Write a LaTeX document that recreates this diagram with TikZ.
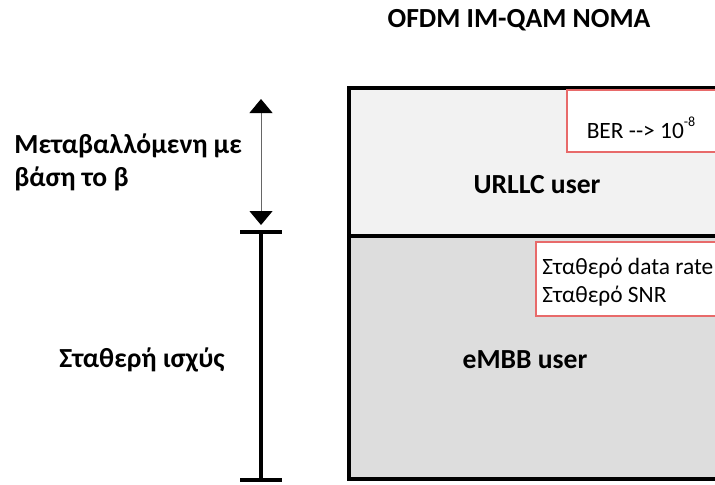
\documentclass[tikz,border=0pt]{standalone}
\usepackage{fontspec}
\setmainfont{Carlito}
\usetikzlibrary{arrows.meta}
\definecolor{upgray}{HTML}{F2F2F2}
\definecolor{lowgray}{HTML}{DDDDDD}
\definecolor{notered}{HTML}{E86A6A}
\begin{document}
\begin{tikzpicture}[x=0.5pt,y=-0.5pt,
			every node/.style={inner sep=0pt},
			lbl/.style={font=\bfseries\fontsize{13.8}{16.5}\selectfont},
			note/.style={font=\fontsize{11.7}{14}\selectfont, align=left},
			notebox/.style={draw=notered, line width=0.6pt, fill=white}]
			\useasboundingbox (0,0) rectangle (715,484);
			\clip (0,0) rectangle (715,484);
			
			\node[lbl] (title) at (519,20) {OFDM IM-QAM NOMA};
			
			% the two layers
			\fill[upgray] (349,88) rectangle (730,236);
			\fill[lowgray] (349,236) rectangle (730,479);
			\draw[line width=1.6pt] (730,88) -- (349,88) -- (349,479) -- (730,479);
			\draw[line width=1.6pt] (349,236) -- (730,236);
			
			% notes
			\draw[notebox] (567,90) rectangle (730,152);
			\node[note] (ber) at (641,128) {BER {-}{-}> 10\raisebox{1.1ex}{\fontsize{7}{8}\selectfont -8}};
			\draw[notebox] (536,242) rectangle (730,316);
			\node[note, anchor=west] (snr) at (542,282) {Σταθερό data rate\\Σταθερό SNR};
			
			\node[lbl] (urllc) at (537,185) {URLLC user};
			\node[lbl] (embb) at (525,360) {eMBB user};
			
			% left side
			\node[lbl, align=left, anchor=north west] (var) at (14,133) {Μεταβαλλόμενη με\\βάση το β};
			\node[lbl] (fixed) at (142,360) {Σταθερή ισχύς};
			
			\coordinate (atop) at (261,99);
			\coordinate (abot) at (261,225);
			\draw[{Triangle[width=11.5pt,length=7pt,black]}-{Triangle[width=11.5pt,length=7pt,black]}, gray!80!black, line width=0.5pt] (atop) -- (abot);
			
			\coordinate (ptop) at (261,232);
			\coordinate (pbot) at (261,480);
			\draw[line width=1.6pt] (240,232) -- (282,232);
			\draw[line width=1.6pt] (ptop) -- (pbot);
			\draw[line width=1.6pt] (240,480) -- (282,480);
		\end{tikzpicture}
\end{document}
